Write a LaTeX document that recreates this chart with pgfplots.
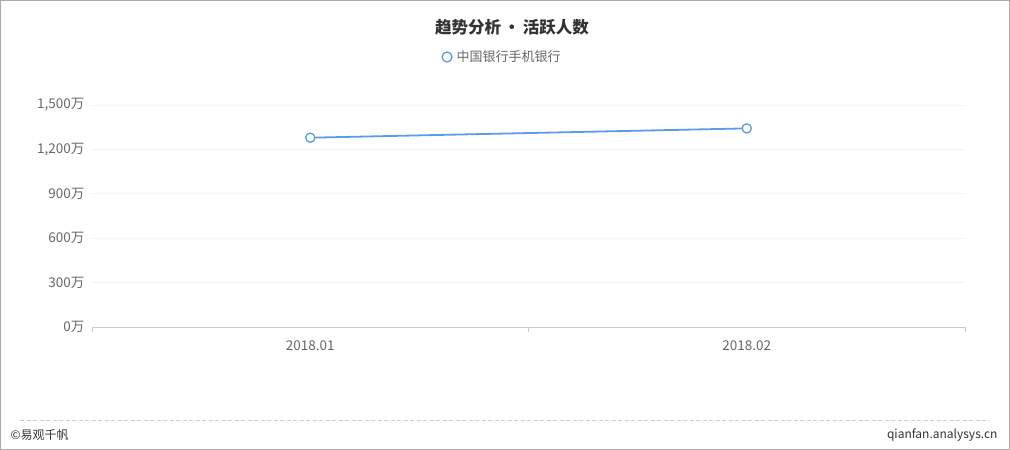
\documentclass[border=0pt]{standalone}
\usepackage{fontspec}
\setmainfont{Noto Sans CJK SC}
\usepackage{pgfplots}
\pgfplotsset{compat=1.18}
\definecolor{lineblue}{HTML}{5C9BE5}
\definecolor{ticktxt}{HTML}{666666}
\definecolor{titletxt}{HTML}{333333}
\definecolor{gridc}{HTML}{F2F2F2}
\definecolor{axisc}{HTML}{CCCCCC}
\definecolor{framec}{HTML}{AAAAAA}

\begin{document}
\begin{tikzpicture}[x=1pt,y=1pt]
\useasboundingbox (0,0) rectangle (1010,450);
\draw[framec,line width=1pt] (0.5,0.5) rectangle (1009.5,449.5);
% title and legend
\node[titletxt,font=\fontsize{16.5}{18}\selectfont\bfseries] at (512,423) {趋势分析\,•\,活跃人数};
\draw[lineblue,line width=1.3pt,fill=white] (447,393) circle (5);
\node[anchor=west,ticktxt,font=\fontsize{13}{15}\selectfont] at (453,393) {中国银行手机银行};
% footer
\draw[axisc,dashed,dash pattern=on 4pt off 2.5pt] (20,30) -- (990,30);
\node[anchor=west,titletxt,font=\fontsize{12}{14}\selectfont] at (7,15) {©易观千帆};
\node[anchor=east,titletxt,font=\fontsize{12}{14}\selectfont] at (1001,15) {qianfan.analysys.cn};
\begin{axis}[
  at={(92pt,123pt)}, anchor=south west,
  scale only axis, width=873pt, height=222pt,
  xmin=-0.5, xmax=1.5, ymin=0, ymax=1500,
  axis x line*=bottom,
  x axis line style={draw=axisc},
  axis y line*=left,
  y axis line style={draw=none},
  xtick={0,1}, xticklabels={2018.01,2018.02},
  ytick={0,300,600,900,1200,1500},
  yticklabels={{0万},{300万},{600万},{900万},{1,200万},{1,500万}},
  major tick length=0pt,
  extra x ticks={-0.5,0.5,1.5}, extra x tick labels={},
  extra x tick style={major tick length=5pt, tick align=outside, tick style={draw=axisc}, grid=none},
  ymajorgrids, grid style={draw=gridc,line width=0.8pt},
  tick label style={ticktxt,font=\fontsize{13.5}{15}\selectfont},
  xticklabel style={yshift=-10pt},
  yticklabel style={xshift=-4pt},
  clip=false,
]
\addplot[lineblue,line width=1.8pt,mark=*,mark size=4.6pt,
  mark options={fill=white,draw=lineblue,line width=1.3pt}]
  coordinates {(0,1279)(1,1342)};
\end{axis}
\end{tikzpicture}
\end{document}
